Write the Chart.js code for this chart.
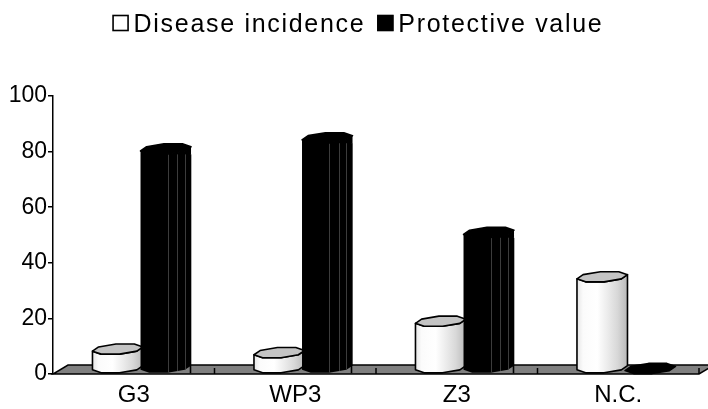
<!DOCTYPE html>
<html>
<head>
<meta charset="utf-8">
<style>
  html, body { margin: 0; padding: 0; background: #fff; overflow: hidden; }
  #wrap { width: 708px; height: 409px; }
</style>
<script src="https://cdn.jsdelivr.net/npm/chart.js@4/dist/chart.umd.min.js"></script>
</head>
<body>
<div id="wrap"><canvas id="c" width="708" height="409"></canvas></div>
<script>
// Data
const categories = ['G3', 'WP3', 'Z3', 'N.C.'];
const diseaseIncidence = [7, 5.7, 17, 33];
const protectiveValue = [79, 83, 49, 0];
const valueTicks = [0, 20, 40, 60, 80, 100];
const seriesNames = ['Disease incidence', 'Protective value'];

const FONT = "'Liberation Sans', Arial, sans-serif";
// Oblique depth of the floor and of the columns (pixels)
const FLOOR_DX = 15, FLOOR_DY = 9;
const COL_DX = 16, COL_DY = 11;

// Gray floor under the columns, with category tick marks
const floorPlugin = {
  id: 'floor',
  beforeDatasetsDraw(chart) {
    const { ctx, chartArea: a } = chart;
    const n = categories.length;
    ctx.save();
    ctx.beginPath();
    ctx.moveTo(a.left, a.bottom);
    ctx.lineTo(a.right, a.bottom);
    ctx.lineTo(a.right + FLOOR_DX, a.bottom - FLOOR_DY);
    ctx.lineTo(a.left + FLOOR_DX, a.bottom - FLOOR_DY);
    ctx.closePath();
    ctx.fillStyle = '#808080';
    ctx.fill();
    ctx.lineWidth = 1.5;
    ctx.strokeStyle = '#000';
    ctx.stroke();
    ctx.beginPath();
    for (let i = 1; i <= n; i++) {
      const x = a.left + (a.right - a.left) * i / n;
      ctx.moveTo(x, a.bottom);
      ctx.lineTo(x, a.bottom - 6);
    }
    ctx.stroke();
    ctx.restore();
  }
};

// Octagonal cylinders drawn from each bar element's scale positions
function octagon(cx, yFront, r, kx, ky) {
  const pts = [];
  for (let k = 0; k < 8; k++) {
    const t = (22.5 + 45 * k) * Math.PI / 180;
    const x = r * Math.cos(t), z = r * Math.sin(t) + r; // z: 0 at front, 2r at back
    pts.push({ t: t, x: cx + x + kx * z, y: yFront - ky * z });
  }
  return pts;
}

function drawCylinder(ctx, el, dark) {
  const r = el.width / 2;
  const kx = COL_DX / (2 * r), ky = COL_DY / (2 * r);
  const top = octagon(el.x, el.y, r, kx, ky);
  const bot = octagon(el.x, el.base, r, kx, ky);
  // front chain: vertices 4 (202.5deg) -> 5 -> 6 -> 7 -> 0 (22.5deg)
  const chain = [4, 5, 6, 7, 0];
  const left = top[4].x, right = top[0].x;

  ctx.save();
  ctx.lineJoin = 'round';
  ctx.lineWidth = 1.6;
  ctx.strokeStyle = '#000';

  // front faces
  if (el.base - el.y > 0.5) {
    ctx.beginPath();
    chain.forEach((i, j) => { j ? ctx.lineTo(top[i].x, top[i].y) : ctx.moveTo(top[i].x, top[i].y); });
    for (let j = chain.length - 1; j >= 0; j--) ctx.lineTo(bot[chain[j]].x, bot[chain[j]].y);
    ctx.closePath();
    if (dark) {
      ctx.fillStyle = '#000';
    } else {
      const g = ctx.createLinearGradient(left, 0, right, 0);
      g.addColorStop(0, '#e6e6e6');
      g.addColorStop(0.12, '#fbfbfb');
      g.addColorStop(0.4, '#ffffff');
      g.addColorStop(0.6, '#ececec');
      g.addColorStop(0.8, '#d8d8d8');
      g.addColorStop(0.93, '#c4c4c4');
      g.addColorStop(1, '#b8b8b8');
      ctx.fillStyle = g;
    }
    ctx.fill();
    if (dark) {
      // faint facet edges on the right-hand side
      ctx.save();
      ctx.clip();
      ctx.strokeStyle = '#3c3c3c';
      ctx.lineWidth = 1;
      [-67.5, -45, -22.5, 0].forEach(d => {
        const t = d * Math.PI / 180;
        const x = el.x + r * Math.cos(t) + kx * (r * Math.sin(t) + r);
        ctx.beginPath();
        ctx.moveTo(Math.round(x) + 0.5, el.y);
        ctx.lineTo(Math.round(x) + 0.5, el.base);
        ctx.stroke();
      });
      ctx.restore();
    }
    ctx.stroke();
  }

  // top face
  ctx.beginPath();
  top.forEach((p, j) => { j ? ctx.lineTo(p.x, p.y) : ctx.moveTo(p.x, p.y); });
  ctx.closePath();
  ctx.fillStyle = dark ? '#000' : '#c4c4c4';
  ctx.fill();
  ctx.stroke();
  ctx.restore();
}

const cylinderPlugin = {
  id: 'cylinders',
  afterDatasetsDraw(chart) {
    const ctx = chart.ctx;
    chart.data.datasets.forEach((ds, di) => {
      const meta = chart.getDatasetMeta(di);
      meta.data.forEach(el => drawCylinder(ctx, el, di === 1));
    });
  }
};

// Legend line at the top: open box / filled box with series names
const legendPlugin = {
  id: 'boxLegend',
  afterDraw(chart) {
    const ctx = chart.ctx;
    ctx.save();
    ctx.font = '25px ' + FONT;
    ctx.letterSpacing = '1.7px';
    const box = 16, gap = 5, itemGap = 12;
    const names = chart.data.datasets.map(d => d.label);
    const widths = names.map(s => ctx.measureText(s).width);
    const total = widths.reduce((s, w) => s + box + gap + w, 0) + itemGap * (names.length - 1);
    let x = 358 - total / 2;
    const baseY = 32;
    names.forEach((s, i) => {
      ctx.lineWidth = 1.6;
      ctx.strokeStyle = '#000';
      ctx.fillStyle = i === 0 ? '#fff' : '#000';
      ctx.fillRect(x, baseY - 17, box, box);
      ctx.strokeRect(x + 0.5, baseY - 17 + 0.5, box - 1, box - 1);
      x += box + gap;
      ctx.fillStyle = '#000';
      ctx.textBaseline = 'alphabetic';
      ctx.fillText(s, x, baseY);
      x += widths[i] + itemGap;
    });
    ctx.restore();
  }
};

new Chart(document.getElementById('c'), {
  type: 'bar',
  data: {
    labels: categories,
    datasets: [
      { label: seriesNames[0], data: diseaseIncidence, backgroundColor: 'rgba(0,0,0,0)', borderWidth: 0 },
      { label: seriesNames[1], data: protectiveValue, backgroundColor: 'rgba(0,0,0,0)', borderWidth: 0 }
    ]
  },
  options: {
    responsive: false,
    devicePixelRatio: 1,
    animation: false,
    categoryPercentage: 0.595,
    barPercentage: 1.0,
    layout: { padding: { top: 96, right: 9, left: 0, bottom: 0 } },
    plugins: { legend: { display: false }, tooltip: { enabled: false } },
    scales: {
      x: {
        grid: { display: false, drawTicks: false },
        border: { display: false },
        ticks: { color: '#000', font: { family: FONT, size: 24 }, padding: 7 },
        afterFit(s) { s.height = 35; }
      },
      y: {
        min: valueTicks[0],
        max: valueTicks[valueTicks.length - 1],
        afterBuildTicks(s) { s.ticks = valueTicks.map(v => ({ value: v })); },
        ticks: { color: '#000', font: { family: FONT, size: 23 }, padding: 1 },
        grid: { drawOnChartArea: false, drawTicks: true, tickLength: 5, color: '#000', lineWidth: 1.5 },
        border: { display: true, color: '#000', width: 1.5 },
        afterFit(s) { s.width = 53; }
      }
    }
  },
  plugins: [floorPlugin, cylinderPlugin, legendPlugin]
});
</script>
</body>
</html>
